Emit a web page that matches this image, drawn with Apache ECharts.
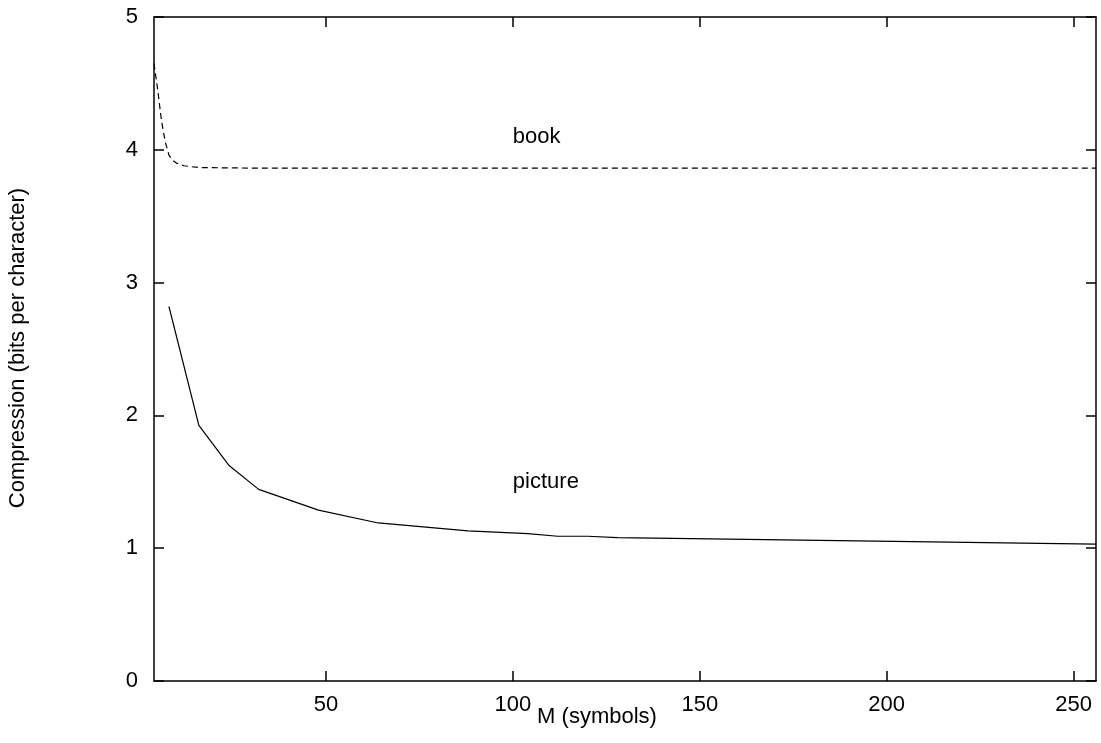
<!DOCTYPE html>
<html>
<head>
<meta charset="utf-8">
<script src="https://cdn.jsdelivr.net/npm/echarts@6/dist/echarts.min.js"></script>
<style>html,body{margin:0;padding:0;background:#fff}#c{width:1101px;height:743px}</style>
</head>
<body>
<div id="c"></div>
<script>
// Data (M in symbols, compression in bits per character)
var bookM = [4, 5, 6, 7, 8, 9, 10, 12, 16, 32, 64, 128, 256];
var bookBits = [4.65, 4.45, 4.22, 4.06, 3.96, 3.92, 3.90, 3.88, 3.866, 3.862, 3.862, 3.862, 3.862];
var pictureM = [8, 16, 24, 32, 48, 64, 88, 104, 112, 120, 128, 256];
var pictureBits = [2.82, 1.925, 1.625, 1.443, 1.287, 1.19, 1.13, 1.11, 1.09, 1.09, 1.08, 1.03];
var xTicks = [50, 100, 150, 200, 250];
var yTicks = [0, 1, 2, 3, 4, 5];
var seriesLabels = [
  { name: 'book', x: 100, y: 4.1 },
  { name: 'picture', x: 100, y: 1.5 }
];
var xTitle = 'M (symbols)';
var yTitle = 'Compression (bits per character)';

function pairs(xs, ys) { return xs.map(function (x, i) { return [x, ys[i]]; }); }

var FONT = 'Liberation Sans, Arial, sans-serif';
var FS = 22;
var chart = echarts.init(document.getElementById('c'));
var axisLine = { show: true, onZero: false, lineStyle: { color: '#000', width: 1.5 } };
var tickStyle = { lineStyle: { color: '#000', width: 1.5 } };

chart.setOption({
  animation: false,
  backgroundColor: '#fff',
  grid: { left: 154, right: 5, top: 17, bottom: 62, containLabel: false },
  xAxis: [
    {
      type: 'value', min: 4, max: 256,
      axisLine: axisLine,
      axisTick: Object.assign({ show: true, inside: true, length: 10, customValues: xTicks }, tickStyle),
      axisLabel: { show: true, customValues: xTicks, color: '#000', fontFamily: FONT, fontSize: FS, margin: 13 },
      splitLine: { show: false }
    },
    {
      type: 'value', min: 4, max: 256, position: 'top',
      axisLine: axisLine,
      axisTick: Object.assign({ show: true, inside: true, length: 10, customValues: xTicks }, tickStyle),
      axisLabel: { show: false },
      splitLine: { show: false }
    }
  ],
  yAxis: [
    {
      type: 'value', min: 0, max: 5, interval: 1,
      axisLine: axisLine,
      axisTick: Object.assign({ show: true, inside: true, length: 10 }, tickStyle),
      axisLabel: { show: true, color: '#000', fontFamily: FONT, fontSize: FS, margin: 16,
        customValues: yTicks },
      splitLine: { show: false }
    },
    {
      type: 'value', min: 0, max: 5, interval: 1, position: 'right',
      axisLine: axisLine,
      axisTick: Object.assign({ show: true, inside: true, length: 10 }, tickStyle),
      axisLabel: { show: false },
      splitLine: { show: false }
    }
  ],
  series: [
    {
      name: 'book', type: 'line', data: pairs(bookM, bookBits),
      showSymbol: false, symbol: 'none', smooth: false,
      lineStyle: { color: '#000', width: 1.2, type: [6, 4] }
    },
    {
      name: 'picture', type: 'line', data: pairs(pictureM, pictureBits),
      showSymbol: false, symbol: 'none', smooth: false,
      lineStyle: { color: '#000', width: 1.2, type: 'solid' }
    },
    {
      type: 'scatter', symbolSize: 0, silent: true,
      itemStyle: { color: '#000', opacity: 1 },
      data: seriesLabels.map(function (l) { return { value: [l.x, l.y], name: l.name }; }),
      label: {
        show: true, position: 'right', distance: 0, formatter: '{b}',
        color: '#000', opacity: 1, fontFamily: FONT, fontSize: FS
      }
    }
  ],
  graphic: [
    {
      type: 'text',
      style: { text: xTitle, font: FS + 'px ' + FONT, fill: '#000', textAlign: 'center', textVerticalAlign: 'middle' },
      x: 597, y: 717
    },
    {
      type: 'text', rotation: Math.PI / 2,
      style: { text: yTitle, font: FS + 'px ' + FONT, fill: '#000', textAlign: 'center', textVerticalAlign: 'middle' },
      x: 18, y: 348
    }
  ]
});
</script>
</body>
</html>
